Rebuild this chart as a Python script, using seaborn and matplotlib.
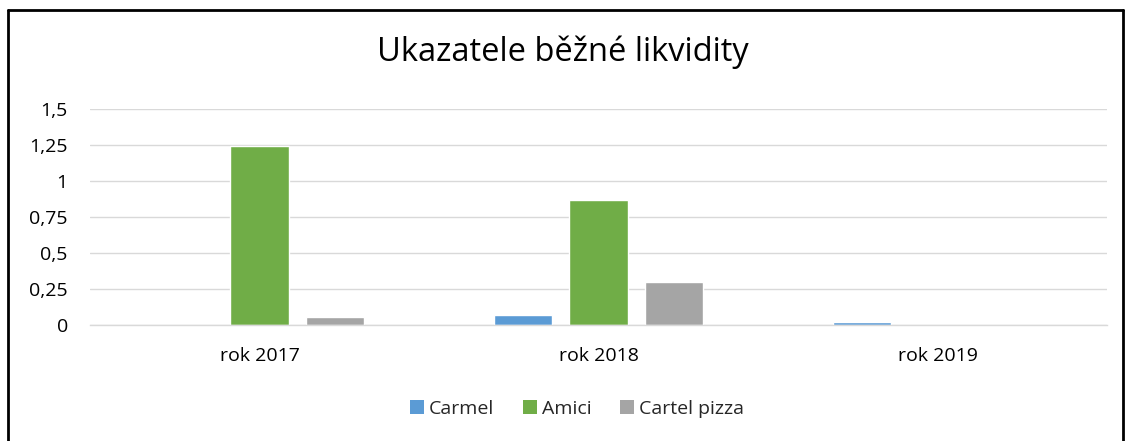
import matplotlib
matplotlib.use("Agg")
import matplotlib.pyplot as plt
import seaborn as sns
import pandas as pd
from matplotlib.lines import Line2D
from matplotlib.patches import Patch

years = ["rok 2017", "rok 2018", "rok 2019"]
series = ["Carmel", "Amici", "Cartel pizza"]
carmel = [0.0, 0.07, 0.02]
amici = [1.243, 0.868, 0.0]
cartel = [0.056, 0.30, 0.0]
colors = ["#5B9BD5", "#70AD47", "#A5A5A5"]
yticks = [0, 0.25, 0.5, 0.75, 1, 1.25, 1.5]
ytick_labels = ["0", "0,25", "0,5", "0,75", "1", "1,25", "1,5"]
title = "Ukazatele běžné likvidity"

rows = []
for name, vals in zip(series, [carmel, amici, cartel]):
    for y, v in zip(years, vals):
        rows.append({"rok": y, "firma": name, "hodnota": v})
df = pd.DataFrame(rows)

sns.set_theme(style="white")
plt.rcParams["font.family"] = ["Open Sans", "DejaVu Sans"]

fig = plt.figure(figsize=(11.25, 4.41), dpi=100)
ax = fig.add_axes([90 / 1125, 1 - 325 / 441, 1017 / 1125, 216 / 441])

sns.barplot(data=df, x="rok", y="hodnota", hue="firma", hue_order=series,
            order=years, palette=colors, width=0.668, gap=0.22,
            saturation=1, ax=ax, legend=False)

ax.set_ylim(0, 1.5)
ax.set_yticks(yticks)
ax.set_yticklabels(ytick_labels, fontsize=14, color="#000000")
ax.tick_params(axis="x", labelsize=14, colors="#000000", pad=16, length=0)
ax.tick_params(axis="y", length=0, pad=16)
ax.yaxis.grid(True, color="#D9D9D9", linewidth=1)
ax.set_axisbelow(True)
ax.set_xlabel("")
ax.set_ylabel("")
for s in ["top", "right", "left"]:
    ax.spines[s].set_visible(False)
ax.spines["bottom"].set_color("#D9D9D9")
ax.spines["bottom"].set_linewidth(1)

fig.text(0.5, 1 - 52 / 441, title, ha="center", va="center", fontsize=23.5, color="#000000")

handles = [Patch(facecolor=c, edgecolor="none") for c in colors]
fig.legend(handles, series, loc="center", bbox_to_anchor=(577 / 1125, 1 - 409 / 441),
           ncol=3, frameon=False, fontsize=14, handlelength=0.7, handleheight=0.7,
           handletextpad=0.25, columnspacing=1.5)

# chart border
fig.add_artist(Line2D([8 / 1125, 8 / 1125], [0, 1 - 10 / 441], transform=fig.transFigure, color="black", linewidth=2))
fig.add_artist(Line2D([8 / 1125, 1123 / 1125], [1 - 10 / 441, 1 - 10 / 441], transform=fig.transFigure, color="black", linewidth=2))
fig.add_artist(Line2D([1123 / 1125, 1123 / 1125], [0, 1 - 10 / 441], transform=fig.transFigure, color="black", linewidth=2))

fig.savefig("out.png", dpi=100)
